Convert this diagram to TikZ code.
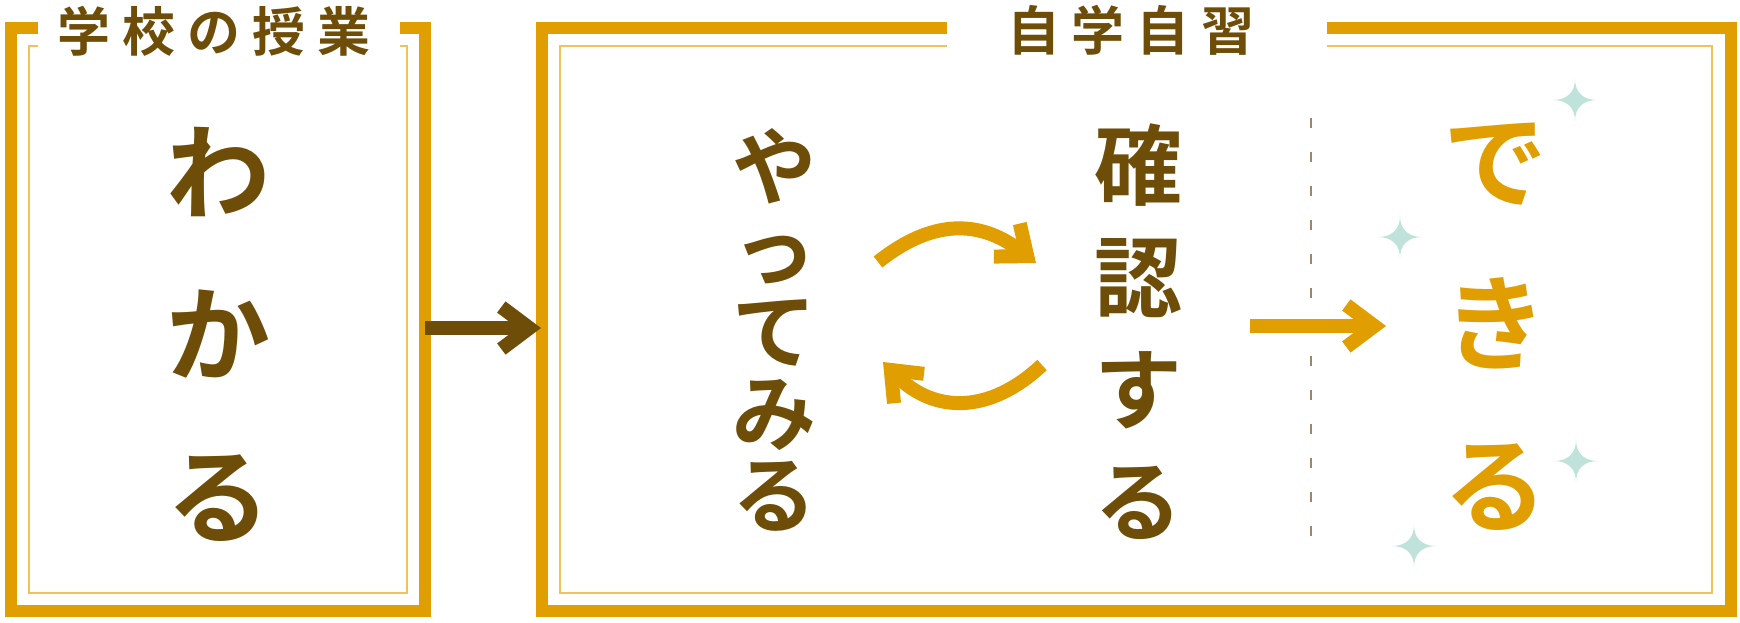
\documentclass[tikz,border=0pt]{standalone}
\usepackage{fontspec}
\newfontfamily\jp{Noto Sans CJK JP}[BoldFont={Noto Sans CJK JP Bold}]
\usetikzlibrary{arrows.meta}
\definecolor{framegold}{HTML}{E09E00}
\definecolor{linegold}{HTML}{F0C25A}
\definecolor{inkbrown}{HTML}{6E4D08}
\definecolor{sparkle}{HTML}{BFE2DA}
\definecolor{dashgray}{HTML}{9C8766}
\tikzset{
  frame/.style={draw=framegold, line width=6pt, line join=miter},
  thinline/.style={draw=linegold, line width=0.9pt},
  title/.style={text=inkbrown, font=\jp\bfseries\fontsize{26.5}{30}\selectfont},
  bigtext/.style={text=inkbrown, align=center, font=\jp\bfseries\fontsize{52}{81}\selectfont},
  midtext/.style={text=inkbrown, align=center, font=\jp\bfseries\fontsize{42}{41}\selectfont},
  bigarrow/.style={line width=7pt, -{Straight Barb[sharp, length=14pt, width=21pt]}},
  cyclearrow/.style={draw=framegold, line width=7pt, -{Straight Barb[sharp, length=13pt, width=21pt]}}
}
\begin{document}
\begin{tikzpicture}[x=0.5pt,y=-0.5pt]
\useasboundingbox (0,0) rectangle (1740,622);
\draw [frame] (38,27.5) -- (11,27.5) -- (11,611) -- (425,611) -- (425,27.5) -- (400,27.5);
\draw [thinline] (38,46) -- (29,46) -- (29,593) -- (407,593) -- (407,46) -- (400,46);
\draw [frame] (947,27.5) -- (542,27.5) -- (542,611) -- (1731,611) -- (1731,27.5) -- (1327,27.5);
\draw [thinline] (947,46) -- (560,46) -- (560,593) -- (1712,593) -- (1712,46) -- (1327,46);
\node [title] (jugyo) at (214,31) {学\hspace{6pt}校\hspace{6pt}の\hspace{6pt}授\hspace{6pt}業};
\node [title] (jishu) at (1131,30) {自\hspace{6pt}学\hspace{6pt}自\hspace{6pt}習};
\node [bigtext] (wakaru) at (218,334) {わ\\か\\る};
\node [midtext] (yattemiru) at (774,330) {や\\っ\\て\\み\\る};
\node [midtext, font=\jp\bfseries\fontsize{44}{56}\selectfont] (kakunin) at (1138,332) {確\\認\\す\\る};
\node [bigtext, text=framegold] (dekiru) at (1495,327) {で\\き\\る};
\coordinate (s1) at (425,328);
\coordinate (s2) at (541,328);
\draw [bigarrow, draw=inkbrown] (s1) -- (s2);
\coordinate (u1) at (878,262);
\coordinate (u2) at (1036,263);
\draw [cyclearrow] (u1) .. controls (932,219) and (980,219) .. (u2);
\coordinate (l1) at (1042,365);
\coordinate (l2) at (883,362);
\draw [cyclearrow] (l1) .. controls (990,414) and (934,414) .. (l2);
\coordinate (d1) at (1311,118);
\coordinate (d2) at (1311,540);
\draw [dashgray, line width=1.2pt, dash pattern=on 5pt off 12pt] (d1) -- (d2);
\coordinate (k1) at (1250,326);
\coordinate (k2) at (1386,326);
\draw [bigarrow, draw=framegold] (k1) -- (k2);
\foreach \sx/\sy in {1575/100, 1400/237, 1576/461, 1414/546}
  \fill [sparkle] (\sx,\sy-21) .. controls (\sx,\sy-8) and (\sx+8,\sy) .. (\sx+22,\sy)
    .. controls (\sx+8,\sy) and (\sx,\sy+8) .. (\sx,\sy+21)
    .. controls (\sx,\sy+8) and (\sx-8,\sy) .. (\sx-22,\sy)
    .. controls (\sx-8,\sy) and (\sx,\sy-8) .. cycle;
\end{tikzpicture}
\end{document}
